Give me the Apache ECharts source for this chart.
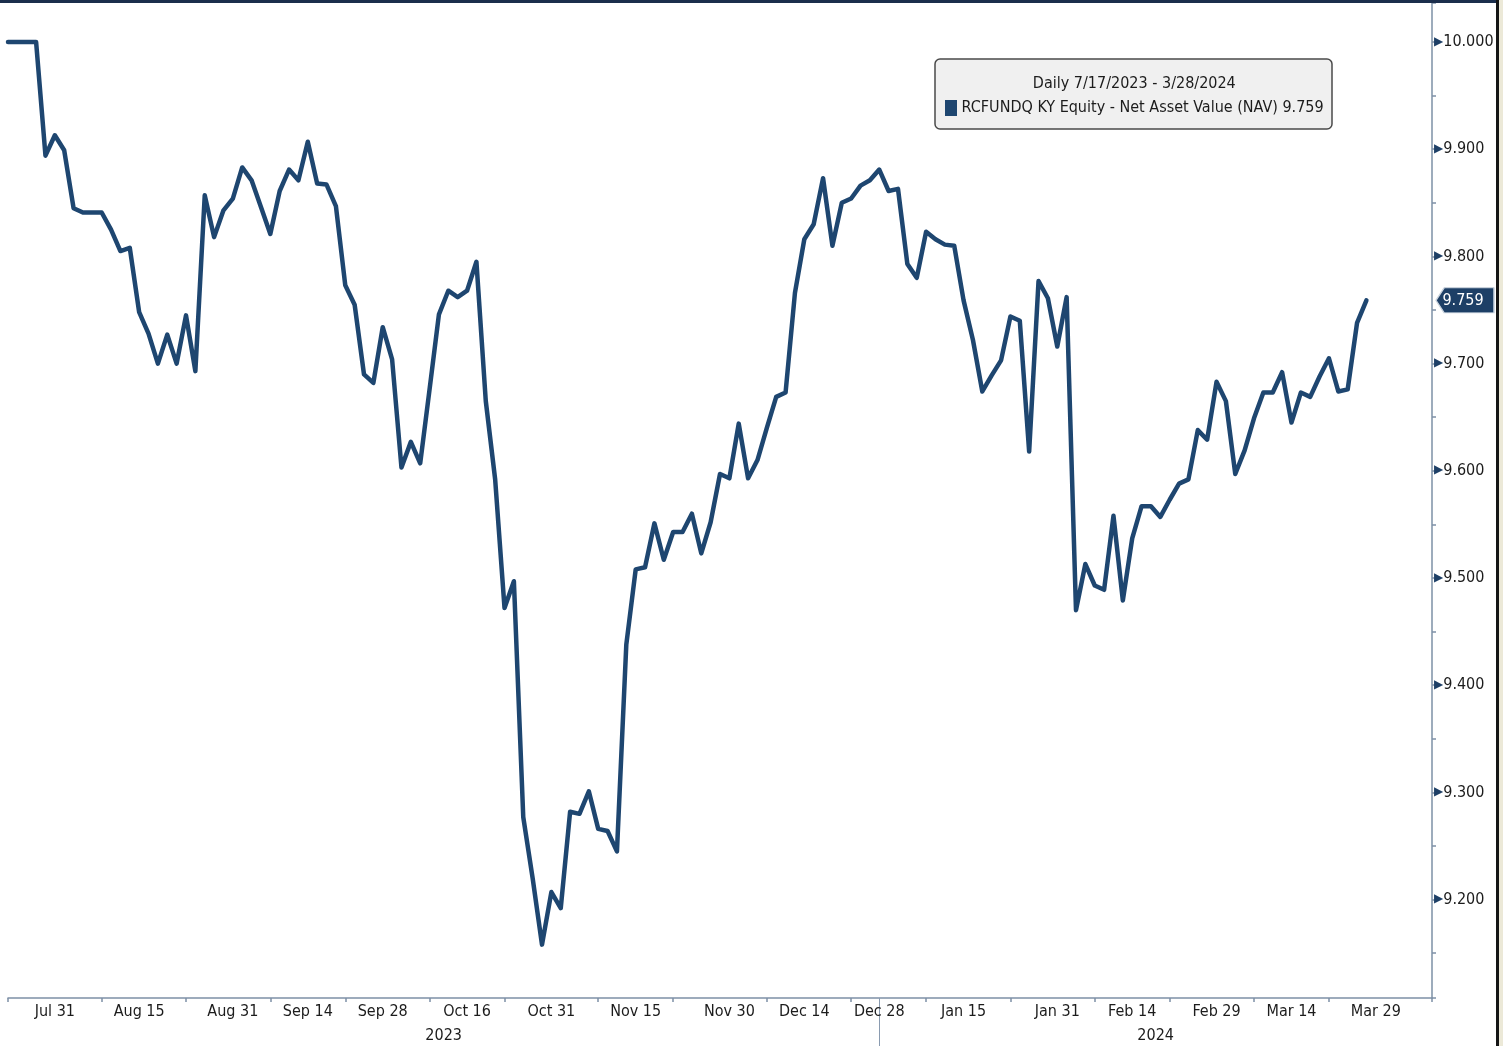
<!DOCTYPE html>
<html>
<head>
<meta charset="utf-8">
<script src="https://cdn.jsdelivr.net/npm/echarts@6/dist/echarts.min.js"></script>
<style>
  html, body { margin: 0; padding: 0; background: #ffffff; }
  #chart { width: 1503px; height: 1046px; }
</style>
</head>
<body>
<div id="chart"></div>
<script>
// ---- data ----
const titleText = 'Daily 7/17/2023 - 3/28/2024';
const seriesName = 'RCFUNDQ KY Equity - Net Asset Value (NAV)';
const navValues = [
  10.000, 10.000, 10.000, 10.000, 9.894, 9.913, 9.899, 9.845, 9.841, 9.841,
  9.841, 9.825, 9.805, 9.808, 9.748, 9.728, 9.700, 9.727, 9.700, 9.745,
  9.693, 9.857, 9.818, 9.843, 9.854, 9.883, 9.871, 9.846, 9.821, 9.861,
  9.881, 9.871, 9.907, 9.868, 9.867, 9.847, 9.773, 9.755, 9.690, 9.682,
  9.734, 9.704, 9.603, 9.627, 9.607, 9.676, 9.746, 9.768, 9.762, 9.768,
  9.795, 9.665, 9.592, 9.472, 9.497, 9.277, 9.220, 9.158, 9.207, 9.192,
  9.282, 9.280, 9.301, 9.266, 9.264, 9.245, 9.438, 9.508, 9.510, 9.551,
  9.517, 9.543, 9.543, 9.560, 9.523, 9.552, 9.597, 9.593, 9.644, 9.593,
  9.610, 9.640, 9.669, 9.673, 9.766, 9.816, 9.830, 9.873, 9.810, 9.850,
  9.854, 9.866, 9.871, 9.881, 9.861, 9.863, 9.793, 9.780, 9.823, 9.816,
  9.811, 9.810, 9.759, 9.722, 9.674, 9.689, 9.703, 9.744, 9.740, 9.618,
  9.777, 9.761, 9.716, 9.762, 9.470, 9.513, 9.493, 9.489, 9.558, 9.479,
  9.537, 9.567, 9.567, 9.557, 9.573, 9.588, 9.592, 9.638, 9.629, 9.683,
  9.665, 9.597, 9.619, 9.649, 9.673, 9.673, 9.692, 9.645, 9.673, 9.669,
  9.688, 9.705, 9.674, 9.676, 9.738, 9.759
];
const slotCount = 153; // trading-day slots spanning the axis
const tickLabels = ['Jul 31','Aug 15','Aug 31','Sep 14','Sep 28','Oct 16','Oct 31','Nov 15','Nov 30','Dec 14','Dec 28','Jan 15','Jan 31','Feb 14','Feb 29','Mar 14','Mar 29'];
const tickLabelSlots = [5, 14, 24, 32, 40, 49, 58, 67, 77, 85, 93, 102, 112, 120, 129, 137, 146];
const tickMarkSlots = [0, 10, 19, 28, 36, 45, 53, 63, 71, 81, 90, 98, 107, 116, 124, 133, 141, 152];
const yearLabels = ['2023', '2024'];
const yearBreakSlot = 93;
const yMin = 9.1082, yMax = 10.0364;

// ---- build ----
const categories = Array.from({ length: slotCount }, (_, i) => String(i));
const lineData = categories.map((c, i) => (i < navValues.length ? navValues[i] : null));
const labelMap = {};
tickLabelSlots.forEach((s, k) => { labelMap[s] = tickLabels[k]; });
const tickSet = new Set(tickMarkSlots);
const lastVal = navValues[navValues.length - 1];

const FONT = "'DejaVu Sans Condensed', 'Liberation Sans Narrow', sans-serif";
const FS = 16;
const NAVY = '#1e4670';
const AXIS = '#7d90a6';
const TXT = '#1c1c1c';

const chart = echarts.init(document.getElementById('chart'), null, { renderer: 'canvas' });

const option = {
  animation: false,
  backgroundColor: '#ffffff',
  grid: { left: 8, right: 71, top: 3, bottom: 48, containLabel: false },
  title: {
    left: 935, top: 59,
    padding: [13, 9, 9, 10],
    backgroundColor: '#f0f0f0',
    borderColor: '#4a4a4a', borderWidth: 1.5, borderRadius: 5,
    text: '{h|' + titleText + '}\n{sq|}{l| ' + seriesName + ' ' + lastVal.toFixed(3) + '}',
    textStyle: {
      fontFamily: FONT, fontSize: FS, fontWeight: 'normal', color: TXT, lineHeight: 24,
      rich: {
        h: { fontFamily: FONT, fontSize: FS, color: TXT, lineHeight: 24, align: 'center' },
        sq: { width: 12, height: 16, backgroundColor: NAVY, align: 'left' },
        l: { fontFamily: FONT, fontSize: FS, color: TXT, lineHeight: 24, align: 'left' }
      }
    }
  },
  xAxis: [{
    type: 'category', data: categories, boundaryGap: false, position: 'bottom',
    axisLine: { show: true, lineStyle: { color: AXIS, width: 1.5 } },
    axisTick: { show: true, length: 4, interval: (i) => tickSet.has(i), lineStyle: { color: AXIS, width: 1.5 } },
    axisLabel: {
      show: true, interval: (i) => labelMap[i] !== undefined,
      formatter: (v, i) => labelMap[i] || '',
      fontFamily: FONT, fontSize: FS, color: TXT, margin: 6
    },
    splitLine: { show: false }
  }, {
    type: 'category', data: categories, boundaryGap: false, position: 'bottom',
    axisLine: { show: false },
    axisTick: { show: true, length: 48, interval: (i) => i === yearBreakSlot, lineStyle: { color: '#8a9bb0', width: 1 } },
    axisLabel: { show: false },
    splitLine: { show: false }
  }],
  yAxis: [{
    type: 'value', position: 'right', min: yMin, max: yMax,
    minInterval: 0.1, maxInterval: 0.1, splitNumber: 9, scale: true,
    axisLine: { show: true, lineStyle: { color: AXIS, width: 1.5 } },
    axisTick: { show: false },
    splitLine: { show: false },
    axisLabel: {
      show: true, showMinLabel: false, showMaxLabel: false, margin: 2,
      formatter: (v) => '{t|\u25B6}{v|' + v.toFixed(3) + '}',
      rich: {
        t: { fontFamily: 'DejaVu Sans', fontSize: 12, color: '#1d3f66', padding: [0, 0, 1, 0] },
        v: { fontFamily: FONT, fontSize: FS, color: TXT }
      }
    }
  }, {
    type: 'value', position: 'right', min: yMin, max: yMax,
    minInterval: 0.05, maxInterval: 0.05, splitNumber: 18, scale: true,
    axisLine: { show: false },
    axisTick: { show: true, inside: false, length: 4, lineStyle: { color: AXIS, width: 1.5 } },
    axisLabel: { show: false },
    splitLine: { show: false }
  }],
  series: [{
    name: seriesName, type: 'line', data: lineData,
    xAxisIndex: 0, yAxisIndex: 0,
    showSymbol: false, symbol: 'none', smooth: false, connectNulls: false, clip: false,
    lineStyle: { color: NAVY, width: 4.5, join: 'round', cap: 'round' },
    markPoint: {
      silent: true,
      symbol: 'path://M0,12 L9,0 L64,0 L64,24 L9,24 Z',
      symbolSize: [58, 25], symbolKeepAspect: false,
      symbolOffset: [33, 0],
      itemStyle: { color: '#1d3f66', borderColor: '#c9d3de', borderWidth: 1 },
      label: { show: true, position: 'inside', offset: [-2, 0], color: '#ffffff', fontFamily: FONT, fontSize: FS, formatter: () => lastVal.toFixed(3) },
      data: [{ coord: [String(slotCount - 1), lastVal] }]
    }
  }],
  graphic: [
    { type: 'rect', shape: { x: 0, y: 0, width: 1497, height: 3 }, style: { fill: '#1b2e4c' }, z: 100 },
    { type: 'rect', shape: { x: 1496, y: 0, width: 3, height: 1046 }, style: { fill: '#151515' }, z: 100 },
    { type: 'rect', shape: { x: 1499, y: 0, width: 4, height: 1046 }, style: { fill: '#ece9d8' }, z: 100 }
  ]
};
chart.setOption(option);

// year labels centred on each year's span of the axis
const leftPx = chart.convertToPixel({ xAxisIndex: 0 }, 0);
const breakPx = chart.convertToPixel({ xAxisIndex: 0 }, yearBreakSlot);
const rightPx = chart.convertToPixel({ xAxisIndex: 0 }, slotCount - 1);
const yearY = chart.convertToPixel({ yAxisIndex: 0 }, yMin) + 38;
const yearCenters = [(leftPx + breakPx) / 2, (breakPx + rightPx) / 2];
chart.setOption({
  graphic: option.graphic.concat(yearLabels.map((t, k) => ({
    type: 'text', x: yearCenters[k], y: yearY,
    style: { text: t, fontFamily: FONT, fontSize: FS, fill: TXT, textAlign: 'center', textVerticalAlign: 'middle' }
  })))
});
</script>
</body>
</html>
